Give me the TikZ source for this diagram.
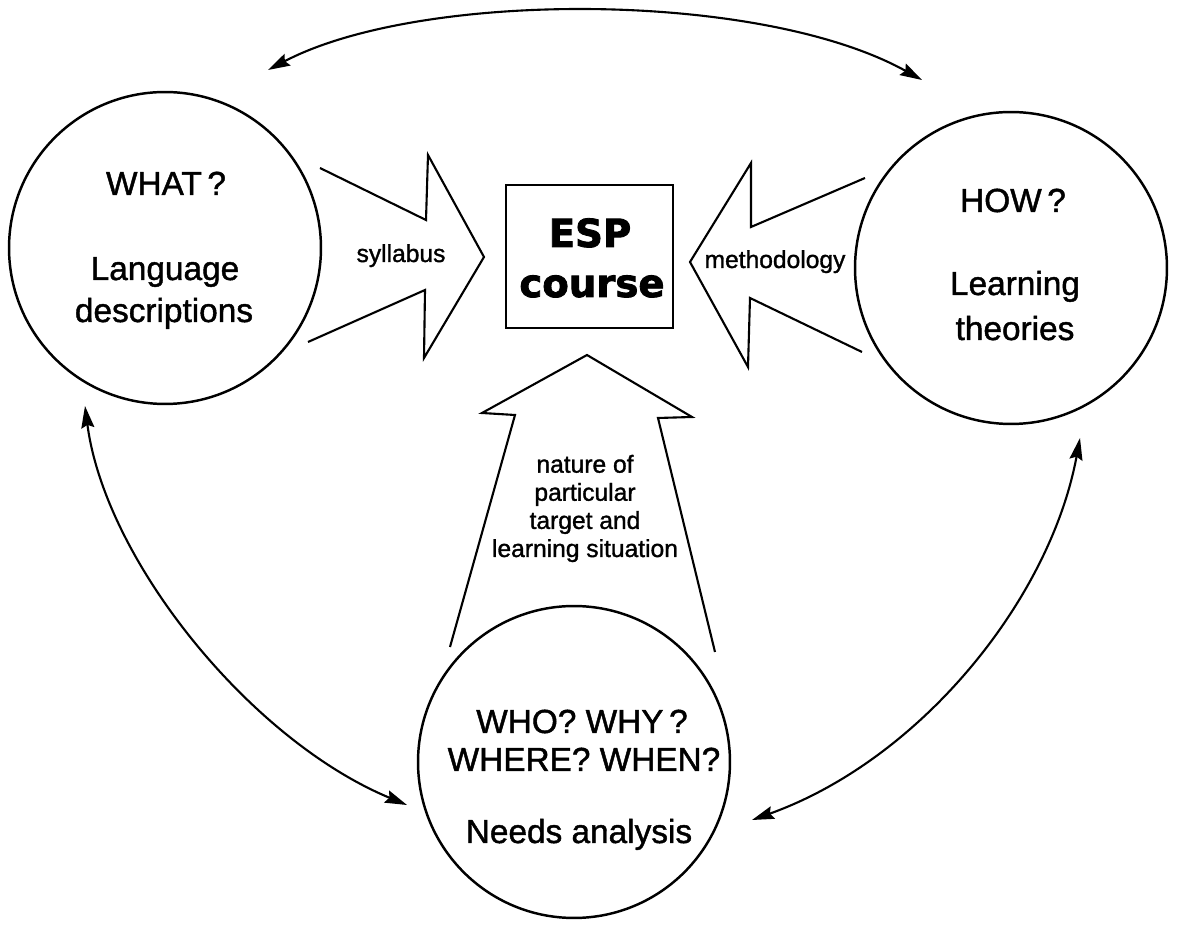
\documentclass[tikz,border=0pt]{standalone}
\usepackage{fontspec}
\setmainfont{Liberation Sans}
\newfontfamily\medio{Liberation Sans}[FakeBold=1.3]
\newfontfamily\espfont{DejaVu Sans Bold}[FakeBold=2.2]
\usetikzlibrary{arrows.meta}

\tikzset{
  cerchio/.style={circle, draw, line width=1.4pt, minimum size=6.24cm, inner sep=0pt},
  domanda/.style={anchor=base, inner sep=0pt, font=\medio\fontsize{19}{22}\selectfont},
  etichetta/.style={anchor=base, inner sep=0pt, font=\medio\fontsize{14}{16}\selectfont},
  freccione/.style={line width=1.2pt, line join=miter},
  legame/.style={line width=1.2pt, <->, >={Stealth[length=4.4mm,width=2.6mm,inset=0.6mm]}},
}

\begin{document}
\begin{tikzpicture}[x=0.02cm, y=-0.02cm]
        \useasboundingbox (0,0) rectangle (1178,928);

        % Cerchi: cosa, come, chi
        \node[cerchio] (what) at (165,248) {};
        \node[cerchio] (how) at (1011,268) {};
        \node[cerchio] (needs) at (574,762) {};

        % Riquadro centrale
        \node[draw, line width=1.4pt, minimum width=3.34cm, minimum height=2.86cm,
              inner sep=0pt] (esp) at (589.5,256.5) {};
        \node[anchor=base, inner sep=0pt, font=\espfont\fontsize{22}{24}\selectfont]
              (esptxt) at (590,247) {ESP};
        \node[anchor=base, inner sep=0pt, font=\espfont\fontsize{22}{24}\selectfont]
              (coursetxt) at (592,297) {course};

        % Frecce grandi verso il riquadro
        \draw[freccione] (320,168) -- (426,220) -- (428,155) -- (484,257)
              -- (424,358) -- (425,290) -- (308,342);
        \draw[freccione] (865,178) -- (751,227) -- (751,163) -- (690,262)
              -- (748,367) -- (750,298) -- (862,352);
        \draw[freccione] (450,647) -- (515,415) -- (482,413) -- (587,355)
              -- (692,417) -- (658,418) -- (715,652);

        % Testi nei cerchi
        \node[domanda] (whatq) at (166,195) {WHAT\,?};
        \node[domanda] (lang) at (165,280) {Language};
        \node[domanda] (descr) at (164,322) {descriptions};
        \node[domanda] (howq) at (1013,212) {HOW\,?};
        \node[domanda] (learn) at (1015,295) {Learning};
        \node[domanda] (theor) at (1015,340) {theories};
        \node[domanda] (whoq) at (582,733) {WHO? WHY\,?};
        \node[domanda] (whereq) at (584,771) {WHERE? WHEN?};
        \node[domanda] (needan) at (579,843) {Needs analysis};

        % Etichette delle frecce
        \node[etichetta] (syll) at (401,262) {syllabus};
        \node[etichetta] (meth) at (775,268) {methodology};
        \node[etichetta, align=center] (natura) at (585,557)
              {nature of\\particular\\target and\\learning situation};

        % Legami tra i cerchi
        \coordinate (top1) at (268,70);
        \coordinate (top2) at (922,80);
        \coordinate (sx1) at (85,406);
        \coordinate (sx2) at (407,805);
        \coordinate (dx1) at (1080,438);
        \coordinate (dx2) at (752,820);
        \draw[legame] (top1) .. controls (420,-10) and (760,-10) .. (top2);
        \draw[legame] (sx1) .. controls (105,560) and (250,740) .. (sx2);
        \draw[legame] (dx1) .. controls (1050,600) and (920,760) .. (dx2);
\end{tikzpicture}
\end{document}
